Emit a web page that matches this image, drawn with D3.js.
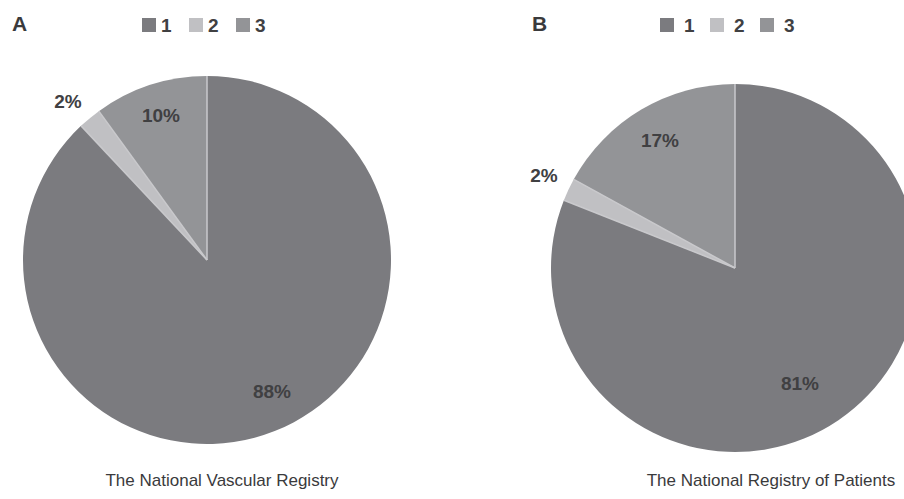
<!doctype html>
<html>
<head>
    <script src="https://cdnjs.cloudflare.com/ajax/libs/d3/7.8.5/d3.min.js"></script>
    <style>
        body { margin: 0; background: #fff; }
        text { font-family: "Liberation Sans", Arial, sans-serif; }
    </style>
</head>
<body>
<svg style="width:904px;height:499px;"></svg>
<script>
    // data
    categories = ["1", "2", "3"]
    valuesA = [88, 2, 10]
    valuesB = [81, 2, 17]
    panels = ["A", "B"]
    captions = ["The National Vascular Registry", "The National Registry of Patients"]

    colors = d3.scaleOrdinal().domain(categories).range(["#7b7b7f", "#c0c0c3", "#939497"])

    svg = d3.select("svg")

    // layout for each panel
    layout = [
        {values: valuesA, cx: 207, cy: 260, r: 184, lx: 12, legX: 142, legStep: 47, legTx: 19, capX: 222,
         labels: [[272, 398], [68, 108], [161, 122]]},
        {values: valuesB, cx: 735, cy: 268, r: 184, lx: 532, legX: 660, legStep: 50, legTx: 24, capX: 771,
         labels: [[800, 390], [544, 182], [660, 147]]}
    ]

    pie = d3.pie().sort(null).value(d => d)

    layout.forEach(function (p, k) {
        var arc = d3.arc().innerRadius(0).outerRadius(p.r)
        var g = svg.append("g").attr("transform", "translate(" + p.cx + "," + p.cy + ")")
        var slices = pie(p.values)

        g.selectAll("path")
            .data(slices)
            .enter()
            .append("path")
            .attr("d", arc)
            .style("fill", (d, i) => colors(categories[i]))

        // light separators between slices (no outer outline)
        g.selectAll("line")
            .data(slices)
            .enter()
            .append("line")
            .attr("x1", 0).attr("y1", 0)
            .attr("x2", d => p.r * Math.sin(d.startAngle))
            .attr("y2", d => -p.r * Math.cos(d.startAngle))
            .style("stroke", "#c9c9cc")
            .style("stroke-width", 1.5)

        svg.selectAll("text.pct" + k)
            .data(p.values)
            .enter()
            .append("text")
            .attr("class", "pct" + k)
            .attr("x", (d, i) => p.labels[i][0])
            .attr("y", (d, i) => p.labels[i][1])
            .attr("text-anchor", "middle")
            .style("font-size", "19px")
            .style("font-weight", "bold")
            .style("fill", "#404042")
            .text(d => d + "%")

        // panel letter
        svg.append("text")
            .attr("x", p.lx)
            .attr("y", 31)
            .style("font-size", "21px")
            .style("font-weight", "bold")
            .style("fill", "#3a3a3c")
            .text(panels[k])

        // legend
        var leg = svg.selectAll("g.leg" + k)
            .data(categories)
            .enter()
            .append("g")
            .attr("class", "leg" + k)
            .attr("transform", (d, i) => "translate(" + (p.legX + i * p.legStep) + ",18)")
        leg.append("rect")
            .attr("width", 14)
            .attr("height", 14)
            .style("fill", d => colors(d))
        leg.append("text")
            .attr("x", p.legTx)
            .attr("y", 14)
            .style("font-size", "19px")
            .style("font-weight", "bold")
            .style("fill", "#404042")
            .text(d => d)

        svg.append("text")
            .attr("x", p.capX)
            .attr("y", 486)
            .attr("text-anchor", "middle")
            .style("font-size", "17px")
            .style("fill", "#3a3a3c")
            .text(captions[k])
    })
</script>
</body>
</html>
